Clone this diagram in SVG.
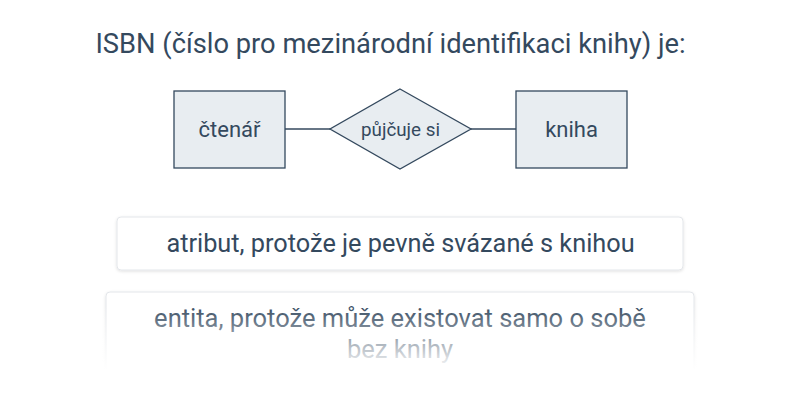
<svg xmlns="http://www.w3.org/2000/svg" width="800" height="400" viewBox="0 0 800 400">
<defs>
<style>
text{font-family:Roboto,"Liberation Sans",sans-serif;fill:#34495e;text-anchor:middle}
.node{fill:#e8edf1;stroke:#34495e;stroke-width:1.3}
.conn{stroke:#34495e;stroke-width:1.3;fill:none}
.opt{fill:#fff;stroke:#e3e6ea;stroke-width:1}
</style>
<filter id="sh" x="-5%" y="-20%" width="110%" height="150%">
<feDropShadow dx="0" dy="1" stdDeviation="1.5" flood-color="#000" flood-opacity="0.12"/>
</filter>
<linearGradient id="fade" x1="0" y1="0" x2="0" y2="1">
<stop offset="0" stop-color="#fff" stop-opacity="0"/>
<stop offset="1" stop-color="#fff" stop-opacity="1"/>
</linearGradient>
</defs>
<rect width="800" height="400" fill="#fff"/>
<text x="390.5" y="53" font-size="27.3">ISBN (číslo pro mezinárodní identifikaci knihy) je:</text>
<g id="connectors">
<line class="conn" x1="285" y1="129" x2="330" y2="129"/>
<line class="conn" x1="471" y1="129" x2="516" y2="129"/>
</g>
<g id="ctenar">
<rect class="node" x="174" y="91" width="111" height="77"/>
<text x="229.5" y="137" font-size="22">čtenář</text>
</g>
<g id="pujcuje">
<polygon class="node" points="400,89 471,129 400,169 330,129"/>
<text x="400.5" y="136" font-size="18.8">půjčuje si</text>
</g>
<g id="kniha">
<rect class="node" x="516" y="91" width="111" height="77"/>
<text x="571.5" y="137" font-size="22">kniha</text>
</g>
<g id="option1">
<rect class="opt" x="117" y="217" width="566" height="53" rx="4" filter="url(#sh)"/>
<text x="400.5" y="252" font-size="25.3">atribut, protože je pevně svázané s knihou</text>
</g>
<g id="option2">
<rect class="opt" x="106" y="292" width="588" height="90" rx="4" filter="url(#sh)"/>
<text x="400" y="327" font-size="25.5">entita, protože může existovat samo o sobě</text>
<text x="400" y="358" font-size="25.5">bez knihy</text>
<rect x="100" y="305" width="600" height="65" fill="url(#fade)"/>
<rect x="100" y="369" width="600" height="31" fill="#fff"/>
</g>
</svg>
